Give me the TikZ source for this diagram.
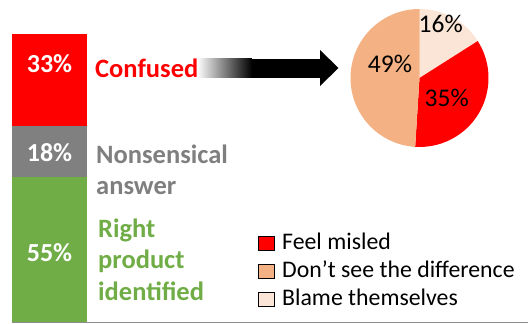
\documentclass[tikz,border=0pt]{standalone}
\usepackage{fontspec}
\setmainfont{Carlito}
\definecolor{cred}{HTML}{FF0000}
\definecolor{cgray}{HTML}{808080}
\definecolor{cgraytxt}{HTML}{7F7F7F}
\definecolor{cgreen}{HTML}{70AD47}
\definecolor{corange}{HTML}{F4B183}
\definecolor{clight}{HTML}{FBE5D6}
\definecolor{cline}{HTML}{8C8C8C}
\begin{document}
\begin{tikzpicture}[x=1pt,y=-1pt,
  txt/.style={inner sep=0pt, anchor=base west, font=\fontsize{23.8}{28}\selectfont},
  btxt/.style={inner sep=0pt, anchor=base west, font=\fontsize{26.5}{31}\selectfont\bfseries},
  pct/.style={inner sep=0pt, anchor=base, text=white, font=\fontsize{26}{28}\selectfont\bfseries},
  pielbl/.style={inner sep=0pt, anchor=base, font=\fontsize{25.5}{28}\selectfont},
  legbox/.style={draw=black, line width=1.1pt, minimum width=16pt, minimum height=14pt, inner sep=0pt, anchor=north west}]
\useasboundingbox (0,0) rectangle (528,324);
% bars
\fill[cred] (12,34) rectangle (87,126);
\fill[cgray] (12,126) rectangle (87,177);
\fill[cgreen] (12,177) rectangle (87,322);
\draw[cline, line width=1pt] (12,322.8) -- (528,322.8);
\node[pct] (p33) at (49.5,72) {33\%};
\node[pct] (p18) at (49.5,161) {18\%};
\node[pct] (p55) at (49.5,261) {55\%};
% category labels
\node[btxt, text=cred] (conf) at (95,77.5) {Confused};
\node[btxt, text=cgraytxt] (nons) at (96,163) {Nonsensical};
\node[btxt, text=cgraytxt] (answ) at (96,194) {answer};
\node[btxt, text=cgreen] (right) at (98,237) {Right};
\node[btxt, text=cgreen] (prod) at (98,268.5) {product};
\node[btxt, text=cgreen] (ident) at (98,300) {identified};
% arrow
\coordinate (pie) at (419.5,78);
\shade[left color=white, right color=black] (197,58.5) rectangle (252,77.5);
\fill[black] (251.5,58.5) rectangle (321,77.5);
\fill[black] (320,50) -- (338.5,68) -- (320,86) -- cycle;
% pie
\fill[clight] (pie) -- ++(-90:69) arc[start angle=-90, end angle=-32.4, radius=69] -- cycle;
\fill[cred] (pie) -- ++(-32.4:69) arc[start angle=-32.4, end angle=93.6, radius=69] -- cycle;
\fill[corange] (pie) -- ++(93.6:69) arc[start angle=93.6, end angle=270, radius=69] -- cycle;
\node[pielbl] (l16) at (440.7,32) {16\%};
\node[pielbl] (l49) at (390,72.7) {49\%};
\node[pielbl] (l35) at (446.7,106) {35\%};
% legend
\node[legbox, fill=cred] (b1) at (257.5,235.5) {};
\node[legbox, fill=corange] (b2) at (257.5,263.5) {};
\node[legbox, fill=clight] (b3) at (257.5,291.5) {};
\node[txt] (t1) at (282,249) {Feel misled};
\node[txt] (t2) at (282,277) {Don’t see the difference};
\node[txt] (t3) at (282,305) {Blame themselves};
\end{tikzpicture}
\end{document}
